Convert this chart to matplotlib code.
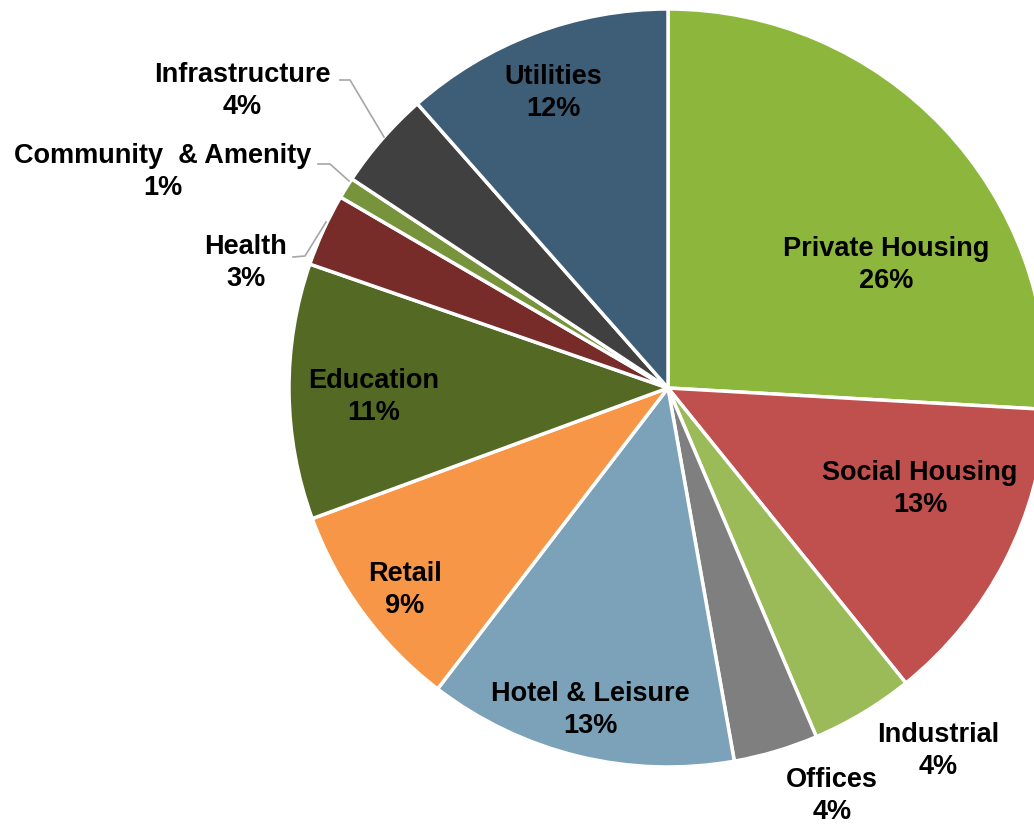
import matplotlib
matplotlib.use("Agg")
import matplotlib.pyplot as plt

categories = ["Private Housing", "Social Housing", "Industrial", "Offices",
              "Hotel & Leisure", "Retail", "Education", "Health",
              "Community  & Amenity", "Infrastructure", "Utilities"]
values = [25.9, 13.3, 4.4, 3.6, 13.2, 9.0, 10.9, 3.1, 0.9, 4.2, 11.5]
colors = ["#8DB63C", "#C0504D", "#9BBB59", "#7F7F7F", "#7BA2B9", "#F79646",
          "#546A24", "#772C2A", "#77933C", "#404040", "#3E5E78"]

# layout (pixel coords, origin top-left)
W, H = 1034, 827
cx, cy, R = 668, 388, 379
label_pos = {
    "Private Housing": (886, 265),
    "Social Housing": (920, 489),
    "Industrial": (938, 751),
    "Offices": (832, 796),
    "Hotel & Leisure": (590, 710),
    "Retail": (405, 590),
    "Education": (374, 397),
    "Health": (246, 263),
    "Community  & Amenity": (163, 172),
    "Infrastructure": (242, 91),
    "Utilities": (553, 93),
}
leaders = {
    "Infrastructure": [(340, 80), (350, 80), (384, 137)],
    "Community  & Amenity": [(318, 164), (330, 164), (349, 181)],
    "Health": [(293, 257), (305, 256), (326, 222)],
}

plt.rcParams["font.family"] = ["Liberation Sans", "DejaVu Sans"]
fig = plt.figure(figsize=(W / 100, H / 100), dpi=100)
ax = fig.add_axes([0, 0, 1, 1])
ax.pie(values, colors=colors, startangle=90, counterclock=False,
       center=(cx, H - cy), radius=R,
       wedgeprops=dict(edgecolor="white", linewidth=2.5))
ax.set_xlim(0, W)
ax.set_ylim(0, H)
ax.set_aspect("equal")
ax.axis("off")

for cat, v in zip(categories, values):
    x, y = label_pos[cat]
    ax.text(x, H - y, f"{cat}\n{round(v)}%", ha="center", va="center",
            fontsize=19.5, fontweight="bold", color="#000000",
            linespacing=1.32, multialignment="center")

for cat, pts in leaders.items():
    xs = [p[0] for p in pts]
    ys = [H - p[1] for p in pts]
    ax.plot(xs, ys, color="#A6A6A6", linewidth=1.2)

fig.savefig("out.png", dpi=100)
